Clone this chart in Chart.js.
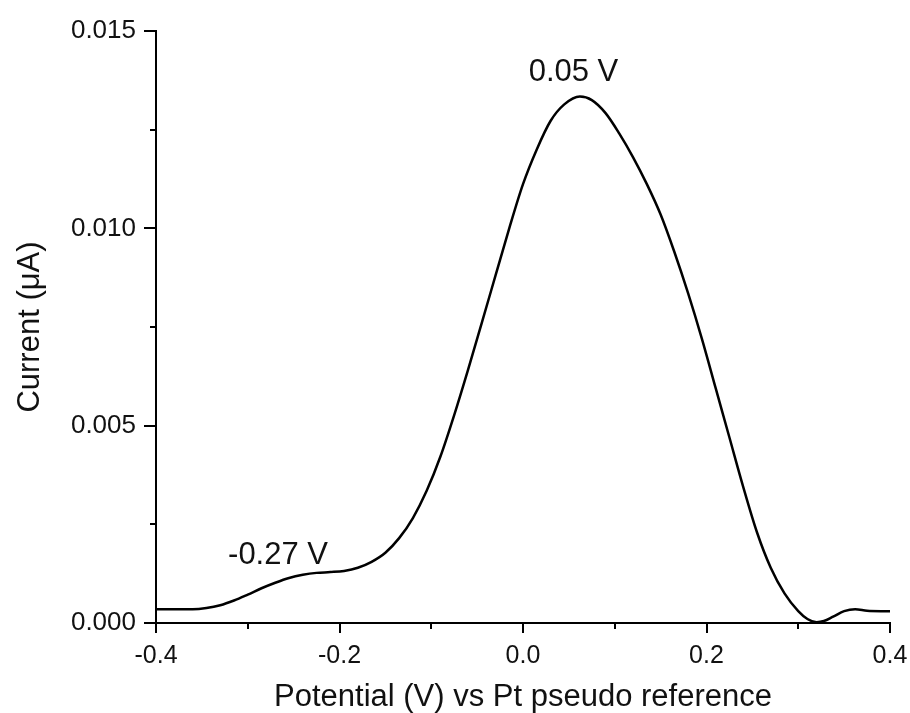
<!DOCTYPE html>
<html>
<head>
<meta charset="utf-8">
<script src="https://cdn.jsdelivr.net/npm/chart.js@4.4.0/dist/chart.umd.min.js"></script>
<style>
  html, body { margin: 0; padding: 0; background: #fff; }
  #wrap { width: 910px; height: 713px; }
</style>
</head>
<body>
<div id="wrap"><canvas id="dpv"></canvas></div>
<script>
// potential (V) and current (uA)
var potential = [-0.400, -0.380, -0.360, -0.345, -0.330, -0.315, -0.300, -0.285, -0.270, -0.255,
                 -0.240, -0.225, -0.210, -0.195, -0.180, -0.165, -0.150, -0.135, -0.120, -0.105,
                 -0.090, -0.075, -0.060, -0.045, -0.030, -0.015, 0.000, 0.015, 0.030, 0.045,
                 0.062, 0.075, 0.090, 0.105, 0.120, 0.135, 0.150, 0.165, 0.180, 0.195,
                 0.210, 0.225, 0.240, 0.255, 0.270, 0.285, 0.300, 0.310, 0.320, 0.328,
                 0.338, 0.350, 0.362, 0.375, 0.390, 0.400];
var current = [0.00035, 0.00035, 0.00035, 0.00038, 0.00045, 0.00057, 0.00072, 0.00088, 0.00102, 0.00114,
               0.00122, 0.00127, 0.00129, 0.00132, 0.00140, 0.00155, 0.00178, 0.00215, 0.00266, 0.00335,
               0.00422, 0.00527, 0.00641, 0.00760, 0.00880, 0.01000, 0.01112, 0.01200, 0.01272, 0.01314,
               0.01334, 0.01325, 0.01292, 0.01240, 0.01180, 0.01112, 0.01035, 0.00940, 0.00835, 0.00720,
               0.00595, 0.00470, 0.00345, 0.00230, 0.00140, 0.00075, 0.00030, 0.00010, 0.00002, 0.00005,
               0.00016, 0.00030, 0.00035, 0.00031, 0.00030, 0.00030];

// peak labels, placed in data coordinates
var peakText = ['0.05 V', '-0.27 V'];
var peakX = [0.055, -0.267];
var peakY = [0.01396, 0.00170];

var xMinorTicks = [-0.3, -0.1, 0.1, 0.3];
var yMinorTicks = [0.0025, 0.0075, 0.0125];

var points = potential.map(function (v, i) { return { x: v, y: current[i] }; });

var fontFamily = "'Liberation Sans', Arial, sans-serif";

// minor ticks + peak labels, positioned through the scales
var extras = {
    id: 'extras',
    afterDraw: function (chart) {
        var ctx = chart.ctx;
        var xs = chart.scales.x, ys = chart.scales.y;
        var area = chart.chartArea;
        ctx.save();
        ctx.strokeStyle = '#000';
        ctx.lineWidth = 2;
        xMinorTicks.forEach(function (v) {
            var px = Math.round(xs.getPixelForValue(v));
            ctx.beginPath();
            ctx.moveTo(px, area.bottom);
            ctx.lineTo(px, area.bottom + 6);
            ctx.stroke();
        });
        yMinorTicks.forEach(function (v) {
            var py = Math.round(ys.getPixelForValue(v));
            ctx.beginPath();
            ctx.moveTo(area.left, py);
            ctx.lineTo(area.left - 6, py);
            ctx.stroke();
        });
        ctx.fillStyle = '#111';
        ctx.font = '31px ' + fontFamily;
        ctx.textAlign = 'center';
        ctx.textBaseline = 'middle';
        peakText.forEach(function (t, i) {
            ctx.fillText(t, xs.getPixelForValue(peakX[i]), ys.getPixelForValue(peakY[i]));
        });
        ctx.restore();
    }
};

var config = {
    type: 'line',
    data: {
        datasets: [{
            data: points,
            borderColor: '#000',
            borderWidth: 2.5,
            pointRadius: 0,
            fill: false,
            cubicInterpolationMode: 'monotone'
        }]
    },
    options: {
        responsive: true,
        maintainAspectRatio: false,
        animation: false,
        layout: { padding: { top: 31, right: 20, left: 0, bottom: 0 } },
        plugins: {
            legend: { display: false },
            tooltip: { enabled: false }
        },
        scales: {
            x: {
                type: 'linear',
                min: -0.4,
                max: 0.4,
                afterFit: function (scale) {
                    scale.height = 90;
                    // let the layout padding alone decide the right edge
                    scale.paddingLeft = 0;
                    scale.paddingRight = 0;
                },
                border: { display: true, color: '#000', width: 2 },
                grid: { drawOnChartArea: false, drawTicks: true, tickLength: 10, color: '#000', lineWidth: 2 },
                ticks: {
                    stepSize: 0.2,
                    padding: 8,
                    color: '#111',
                    font: { family: fontFamily, size: 25 },
                    callback: function (v) { return Number(v).toFixed(1); }
                },
                title: {
                    display: true,
                    text: 'Potential (V) vs Pt pseudo reference',
                    color: '#111',
                    padding: 0,
                    font: { family: fontFamily, size: 31, lineHeight: 1 }
                }
            },
            y: {
                type: 'linear',
                min: 0,
                max: 0.015,
                afterFit: function (scale) { scale.width = 156; },
                border: { display: true, color: '#000', width: 2 },
                grid: { drawOnChartArea: false, drawTicks: true, tickLength: 12, color: '#000', lineWidth: 2 },
                ticks: {
                    stepSize: 0.005,
                    padding: 8,
                    color: '#111',
                    font: { family: fontFamily, size: 26 },
                    callback: function (v) { return Number(v).toFixed(3); }
                },
                title: {
                    display: true,
                    text: 'Current (\u03bcA)',
                    color: '#111',
                    padding: { top: 15, bottom: 0 },
                    font: { family: fontFamily, size: 31, lineHeight: 1 }
                }
            }
        }
    },
    plugins: [extras]
};

var ctx = document.getElementById('dpv').getContext('2d');
window.dpvChart = new Chart(ctx, config);
</script>
</body>
</html>
